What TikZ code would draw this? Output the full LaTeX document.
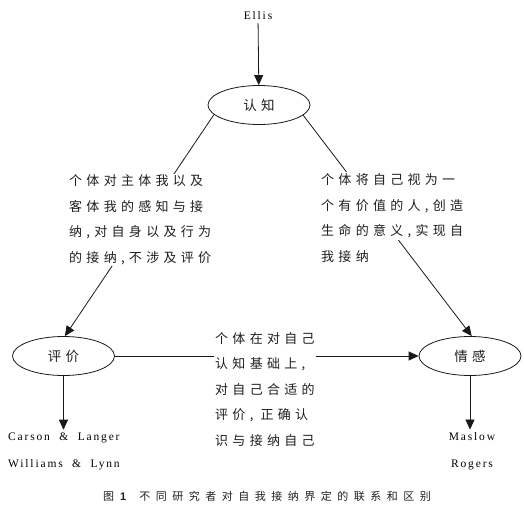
\documentclass[tikz,border=0pt]{standalone}
\usepackage{fontspec}
\usetikzlibrary{arrows.meta,shapes.geometric}
\newfontfamily\cjk[LetterSpace=33]{Noto Sans CJK SC}
\newfontfamily\cjkcap[LetterSpace=50]{Noto Sans CJK SC}
\newfontfamily\lat[LetterSpace=16]{Liberation Serif}
\definecolor{txt}{gray}{0.12}
\definecolor{lattxt}{gray}{0.0}
\definecolor{ln}{gray}{0.1}
\tikzset{
  oval/.style={ellipse,draw=ln,line width=0.8pt,minimum width=102pt,minimum height=39pt,inner sep=0pt,text=txt,font=\cjk\fontsize{13.5}{15}\selectfont},
  cjktext/.style={fill=white,inner sep=1.5pt,align=left,text=txt,font=\cjk\fontsize{13}{25.5}\selectfont},
  namelist/.style={inner sep=3pt,text=lattxt,font=\lat\fontsize{11.5}{27}\selectfont},
  conn/.style={draw=ln,line width=0.8pt},
  arr/.style={conn,-{Triangle[length=10pt,width=9pt]}}
}
\begin{document}
\begin{tikzpicture}[x=1pt,y=-1pt]
\useasboundingbox (0,0) rectangle (524,519);
% nodes
\node[namelist] (ellis) at (258,16) {Ellis};
\node[oval] (ren) at (259,105) {认知};
\node[oval] (ping) at (63.5,356) {评价};
\node[oval] (qing) at (470,356) {情感};
\node[namelist,anchor=west,align=left] (lbot) at (5,451.5) {Carson \ \& \ Langer\\Williams \ \& \ Lynn};
\node[namelist,align=center] (rbot) at (472,451.5) {Maslow\\Rogers};
% connectors
\draw[arr] (ellis) -- (ren);
\draw[arr] (ren.192) -- (ping.86);
\draw[arr] (ren.347) -- (qing.85);
\draw[arr] (ping.east) -- (qing.west);
\draw[arr] (ping.south) -- (lbot.north -| ping.south);
\draw[arr] (qing.south) -- (rbot.north -| qing.south);
% labels on connectors
\node[cjktext,anchor=west] (ltext) at (67.5,220) {个体对主体我以及\\客体我的感知与接\\纳,对自身以及行为\\的接纳,不涉及评价};
\node[cjktext,anchor=west] (rtext) at (319.5,206) {个体将自己视为一\\个有价值的人,创造\\生命的意义,实现自};
\node[cjktext,anchor=west] (rtextb) at (319.5,257) {我接纳};
\node[cjktext,anchor=west] (mtext) at (213.5,389.5) {个体在对自己\\认知基础上,\\对自己合适的\\评价, 正确认\\识与接纳自己};
% caption
\node[anchor=west,inner sep=0pt,text=txt,font=\cjkcap\fontsize{11}{13}\selectfont] (cap) at (103,496) {图\hspace{-2pt} {\fontspec{Liberation Sans}\bfseries 1}\hspace{13pt}不同研究者对自我接纳界定的联系和区别};
\end{tikzpicture}
\end{document}
